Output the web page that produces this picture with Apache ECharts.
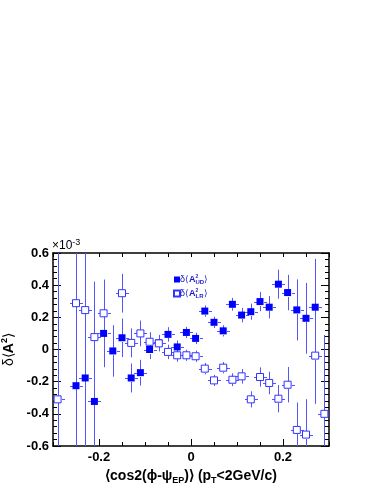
<!DOCTYPE html>
<html>
<head>
<meta charset="utf-8">
<script src="https://cdn.jsdelivr.net/npm/echarts@6/dist/echarts.min.js"></script>
<style>
  html, body { margin: 0; padding: 0; background: #fff; }
  #chart { width: 374px; height: 484px; }
</style>
</head>
<body>
<div id="chart"></div>
<script>
// bin centres of <cos2(phi-psi_EP)>
const xVals = [-0.29, -0.25, -0.23, -0.21, -0.19, -0.17, -0.15, -0.13, -0.11, -0.09, -0.07, -0.05, -0.03, -0.01,
  0.01, 0.03, 0.05, 0.07, 0.09, 0.11, 0.13, 0.15, 0.17, 0.19, 0.21, 0.23, 0.25, 0.27, 0.29]
// delta<A^2_UD>, units of 1e-3
const udVals = [null, -0.225, -0.177, -0.323, 0.100, -0.009, 0.073, -0.177, -0.144, 0.000, 0.041, 0.094, 0.016, 0.106,
  0.069, 0.239, 0.169, 0.116, 0.281, 0.214, 0.235, 0.298, 0.263, 0.406, 0.354, 0.246, 0.194, 0.263, null]
const udErr = [null, 0.9, 0.9, 0.5, 0.21, 0.16, 0.12, 0.09, 0.08, 0.06, 0.05, 0.045, 0.04, 0.035,
  0.035, 0.035, 0.035, 0.035, 0.04, 0.045, 0.05, 0.06, 0.07, 0.09, 0.11, 0.19, 0.22, 0.30, null]
// delta<A^2_LR>, units of 1e-3
const lrVals = [-0.310, 0.288, 0.245, 0.077, 0.225, null, 0.350, 0.041, 0.100, 0.048, 0.038, -0.015, -0.036, -0.036,
  -0.042, -0.119, -0.192, -0.113, -0.188, -0.167, -0.310, -0.171, -0.208, -0.306, -0.219, -0.500, -0.529, -0.038, -0.400]
const lrErr = [1.0, 0.9, 0.9, 0.345, 0.21, null, 0.12, 0.09, 0.08, 0.06, 0.05, 0.045, 0.04, 0.035,
  0.035, 0.035, 0.035, 0.035, 0.04, 0.045, 0.05, 0.06, 0.07, 0.085, 0.11, 0.17, 0.22, 0.30, 0.49]
const xLabelTicks = [-0.2, 0, 0.2]

const blue = '#0000ff'
const errBlue = '#5555ff'
const font = '"Liberation Sans", Arial, Helvetica, sans-serif'

const pts = (vals, errs) => xVals
  .map((x, i) => [x, vals[i], errs[i]])
  .filter(d => d[1] !== null)

const udData = pts(udVals, udErr)
const lrData = pts(lrVals, lrErr)

// error bar drawn outside the marker, plus short horizontal stubs
const renderErr = (params, api) => {
  const x = api.value(0), y = api.value(1), e = api.value(2)
  const c = api.coord([x, y])
  const top = api.coord([x, y + e])[1]
  const bot = api.coord([x, y - e])[1]
  const h = 3.5
  const px = Math.round(c[0]) + 0.5
  const py = Math.round(c[1]) + 0.5
  const style = { stroke: errBlue, lineWidth: 1 }
  const children = []
  if (top < py - h) children.push({ type: 'line', shape: { x1: px, y1: top, x2: px, y2: py - h }, style })
  if (bot > py + h) children.push({ type: 'line', shape: { x1: px, y1: py + h, x2: px, y2: bot }, style })
  children.push({ type: 'line', shape: { x1: px - h - 3, y1: py, x2: px - h, y2: py }, style })
  children.push({ type: 'line', shape: { x1: px + h, y1: py, x2: px + h + 3, y2: py }, style })
  return { type: 'group', children }
}

const fmtY = v => {
  const r = Math.round(v * 10) / 10
  return r === 0 ? '0' : r.toFixed(1)
}

const chart = echarts.init(document.getElementById('chart'), null, { renderer: 'canvas' })

const options = {
  animation: false,
  backgroundColor: '#fff',
  grid: { left: 53, right: 45, top: 253, bottom: 38, containLabel: false, outerBoundsMode: 'none' },
  legend: {
    orient: 'vertical',
    left: 168,
    top: 269,
    itemWidth: 6,
    itemHeight: 6,
    itemGap: 3,
    data: ['UD', 'LR'],
    formatter: name => '{t|δ⟨}{a|A}{p|2}{s|' + name + '}{t|⟩}',
    textStyle: {
      padding: [0, 0, 0, -5],
      rich: {
        t: { fontFamily: font, fontSize: 9, color: '#1a1acc', lineHeight: 11, verticalAlign: 'middle' },
        a: { fontFamily: font, fontSize: 9, fontWeight: 'bold', color: '#1a1acc', lineHeight: 11, verticalAlign: 'middle' },
        p: { fontFamily: font, fontSize: 5, fontWeight: 'bold', color: '#1a1acc', width: 0, lineHeight: 11, verticalAlign: 'top' },
        s: { fontFamily: font, fontSize: 6, fontWeight: 'bold', color: '#1a1acc', lineHeight: 11, verticalAlign: 'bottom' }
      }
    }
  },
  graphic: [
    {
      type: 'text',
      left: 52,
      top: 238,
      style: {
        rich: {
          m: { fontFamily: font, fontSize: 12, fill: '#000', lineHeight: 14, verticalAlign: 'bottom' },
          e: { fontFamily: font, fontSize: 9, fill: '#000', lineHeight: 14, verticalAlign: 'top' }
        },
        text: '{m|×10}{e|-3}'
      }
    }
  ],
  xAxis: [
    {
      type: 'value',
      min: -0.3,
      max: 0.3,
      interval: 0.05,
      position: 'bottom',
      name: '{b|⟨cos2(ϕ-ψ}{s|EP}{b|)⟩ (p}{s|T}{b|<2GeV/c)}',
      nameLocation: 'middle',
      nameGap: 21,
      nameTextStyle: {
        rich: {
          b: { fontFamily: font, fontSize: 14, fontWeight: 'bold', color: '#000', lineHeight: 18, verticalAlign: 'middle' },
          s: { fontFamily: font, fontSize: 9, fontWeight: 'bold', color: '#000', lineHeight: 18, verticalAlign: 'bottom' }
        }
      },
      axisLine: { show: true, onZero: false, lineStyle: { color: '#000', width: 1.5 } },
      axisTick: { show: true, inside: true, length: 4, lineStyle: { color: '#000', width: 1 } },
      axisLabel: {
        customValues: xLabelTicks,
        formatter: v => (Math.abs(v) < 1e-9 ? '0' : v.toFixed(1)),
        fontFamily: font, fontSize: 13, fontWeight: 'bold', color: '#000', margin: 5
      },
      splitLine: { show: false }
    },
    {
      type: 'value',
      min: -0.3,
      max: 0.3,
      interval: 0.05,
      position: 'top',
      axisLine: { show: true, onZero: false, lineStyle: { color: '#000', width: 1.5 } },
      axisTick: { show: true, inside: true, length: 4, lineStyle: { color: '#000', width: 1 } },
      axisLabel: { show: false },
      splitLine: { show: false }
    },
    {
      // long ticks at the labelled values
      type: 'value',
      min: -0.3,
      max: 0.3,
      position: 'bottom',
      axisLine: { show: false, onZero: false },
      axisTick: { show: true, inside: true, length: 7, customValues: xLabelTicks, lineStyle: { color: '#000', width: 1 } },
      axisLabel: { show: false },
      splitLine: { show: false }
    }
  ],
  yAxis: [
    {
      type: 'value',
      min: -0.6,
      max: 0.6,
      interval: 0.2,
      position: 'left',
      name: '{d|δ⟨}{a|A}{p|2}{d|⟩}',
      nameLocation: 'middle',
      nameGap: 29,
      nameRotate: 90,
      nameTextStyle: {
        rich: {
          d: { fontFamily: font, fontSize: 14, color: '#000', lineHeight: 18, verticalAlign: 'middle' },
          a: { fontFamily: font, fontSize: 14, fontWeight: 'bold', color: '#000', lineHeight: 18, verticalAlign: 'middle' },
          p: { fontFamily: font, fontSize: 9, fontWeight: 'bold', color: '#000', lineHeight: 18, verticalAlign: 'top' }
        }
      },
      axisLine: { show: true, onZero: false, lineStyle: { color: '#000', width: 1.5 } },
      axisTick: { show: true, inside: true, length: 8, lineStyle: { color: '#000', width: 1 } },
      minorTick: { show: true, splitNumber: 5, length: 4, lineStyle: { color: '#000', width: 1 } },
      axisLabel: {
        formatter: fmtY,
        fontFamily: font, fontSize: 13, fontWeight: 'bold', color: '#000', margin: 4
      },
      splitLine: { show: false }
    },
    {
      type: 'value',
      min: -0.6,
      max: 0.6,
      interval: 0.2,
      position: 'right',
      axisLine: { show: true, onZero: false, lineStyle: { color: '#000', width: 1.5 } },
      axisTick: { show: true, inside: true, length: 8, lineStyle: { color: '#000', width: 1 } },
      minorTick: { show: true, splitNumber: 5, length: 4, lineStyle: { color: '#000', width: 1 } },
      axisLabel: { show: false },
      splitLine: { show: false }
    }
  ],
  series: [
    {
      name: 'errUD',
      type: 'custom',
      clip: true,
      renderItem: renderErr,
      data: udData,
      silent: true,
      z: 2
    },
    {
      name: 'errLR',
      type: 'custom',
      clip: true,
      renderItem: renderErr,
      data: lrData,
      silent: true,
      z: 2
    },
    {
      name: 'UD',
      type: 'scatter',
      symbol: 'rect',
      symbolSize: 7,
      clip: true,
      data: udData.map(d => [d[0], d[1]]),
      itemStyle: { color: blue, opacity: 1 },
      z: 3
    },
    {
      name: 'LR',
      type: 'scatter',
      symbol: 'rect',
      symbolSize: 7,
      clip: true,
      data: lrData.map(d => [d[0], d[1]]),
      itemStyle: { color: '#fff', borderColor: '#3333ff', borderWidth: 1, opacity: 1 },
      z: 4
    }
  ]
}

chart.setOption(options)
</script>
</body>
</html>
